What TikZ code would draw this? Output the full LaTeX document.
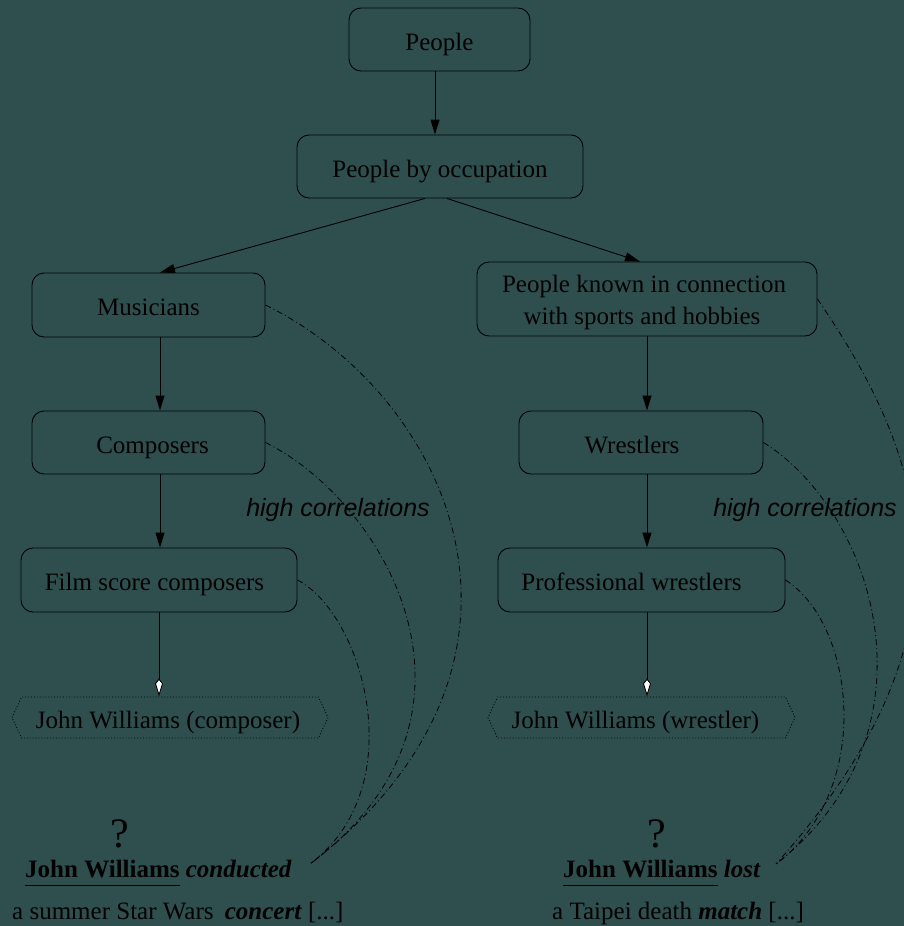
\documentclass[tikz,border=0pt]{standalone}
\usepackage{fontspec}
\setmainfont{Liberation Serif}
\newfontfamily\hfont{Liberation Sans}
\usetikzlibrary{arrows.meta,shapes.symbols}
\definecolor{bg}{RGB}{47,79,79}
\newcommand\myul[1]{\setbox0\hbox{#1}\rlap{\rule[-9pt]{\wd0}{1.1pt}}\box0\relax}
\begin{document}
\begin{tikzpicture}[x=1pt,y=-1pt,
 box/.style={draw, rounded corners=12pt, line width=0.9pt, inner sep=0pt, font=\fontsize{25}{32}\selectfont, align=center, text height=21pt, text depth=0pt},
 inst/.style={draw, dotted, signal, signal to=east and west, signal pointer angle=130, inner sep=0pt, line width=0.9pt, font=\fontsize{25}{30}\selectfont, text height=21pt, text depth=0pt},
 isa/.style={line width=0.9pt, -{Triangle[length=15pt,width=9pt]}},
 inarr/.style={line width=0.9pt, -{Kite[length=18pt,width=8pt,inset=5pt,fill=white]}},
 corr/.style={line width=0.8pt, dash pattern=on 6pt off 3pt on 1pt off 3pt},
 lbl/.style={font=\hfont\itshape\fontsize{25}{30}\selectfont},
 txt/.style={anchor=base west, inner sep=0pt, font=\fontsize{25}{30}\selectfont},
 qm/.style={anchor=base, inner sep=0pt, font=\fontsize{42}{48}\selectfont}
]
\fill[bg] (0,0) rectangle (904,926);
\useasboundingbox (0,0) rectangle (904,926);

\node[box, minimum width=181pt, minimum height=63pt] (people) at (439.5,39.5) {People};
\node[box, minimum width=286pt, minimum height=63pt] (occ) at (440,166.5) {People by occupation};
\node[box, minimum width=233pt, minimum height=64pt] (mus) at (148.5,305) {Musicians};
\node[box, minimum width=340pt, minimum height=74pt, text height=53pt, text depth=3pt] (sport) at (647,299) {People known in connection\hspace*{6pt}\\with sports and hobbies\hspace*{10pt}};
\node[box, minimum width=233pt, minimum height=63pt] (comp) at (148.5,442.5) {\hspace*{8pt}Composers};
\node[box, minimum width=244pt, minimum height=63pt] (wres) at (641,442.5) {Wrestlers\hspace*{18pt}};
\node[box, minimum width=276pt, minimum height=64pt] (film) at (159,580) {Film score composers\hspace*{9pt}};
\node[box, minimum width=287pt, minimum height=64pt] (prof) at (641.5,580) {Professional wrestlers\hspace*{20pt}};
\node[inst, minimum width=316pt, minimum height=41pt] (jwc) at (170,717.5) {John Williams (composer)\hspace*{4pt}};
\node[inst, minimum width=307pt, minimum height=41pt] (jww) at (641.5,717.5) {John Williams (wrestler)\hspace*{12pt}};

\coordinate (xa) at (435,0);
\coordinate (xl) at (160,0);
\coordinate (xf) at (159,0);
\coordinate (xr) at (647,0);

\draw[isa] (people.south -| xa) -- (occ.north -| xa);
\draw[isa] ([xshift=-15pt]occ.south) -- ([xshift=11.5pt]mus.north);
\draw[isa] ([xshift=7pt]occ.south) -- ([xshift=-7pt]sport.north);
\draw[isa] (mus.south -| xl) -- (comp.north -| xl);
\draw[isa] (comp.south -| xl) -- (film.north -| xl);
\draw[inarr] (film.south -| xf) -- (jwc.north -| xf);
\draw[isa] (sport.south -| xr) -- (wres.north -| xr);
\draw[isa] (wres.south -| xr) -- (prof.north -| xr);
\draw[inarr] (prof.south -| xr) -- (jww.north -| xr);

\node[lbl] (hc1) at (338,510) {high correlations};
\node[lbl] (hc2) at (805,510) {high correlations};

\node[qm] (q1) at (120,847) {?};
\node[qm] (q2) at (657,847) {?};
\node[txt] (s1) at (25,877) {\myul{\textbf{John Williams}} \textbf{\textit{conducted}}};
\node[txt] (c1) at (12,919) {a summer Star Wars\hspace{0.45em}\textbf{\textit{concert}} [...]};
\node[txt] (s2) at (563,877) {\myul{\textbf{John Williams}} \textbf{\textit{lost}}};
\node[txt] (c2) at (552,919) {a Taipei death \textbf{\textit{match}} [...]};

\coordinate (cl) at (310,864);
\coordinate (cr) at (776,864);

\draw[corr] (mus.east) .. controls (447,394) and (575,660) .. (cl);
\draw[corr] (comp.east) .. controls (384,501) and (510,714) .. (cl);
\draw[corr] (film.east) .. controls (362,613) and (414,786) .. (cl);
\draw[corr] (sport.east) .. controls (927,459) and (985,630) .. (cr);
\draw[corr] (wres.east) .. controls (875,512) and (945,732) .. (cr);
\draw[corr] (prof.east) .. controls (855,624) and (875,789) .. (cr);
\end{tikzpicture}
\end{document}
